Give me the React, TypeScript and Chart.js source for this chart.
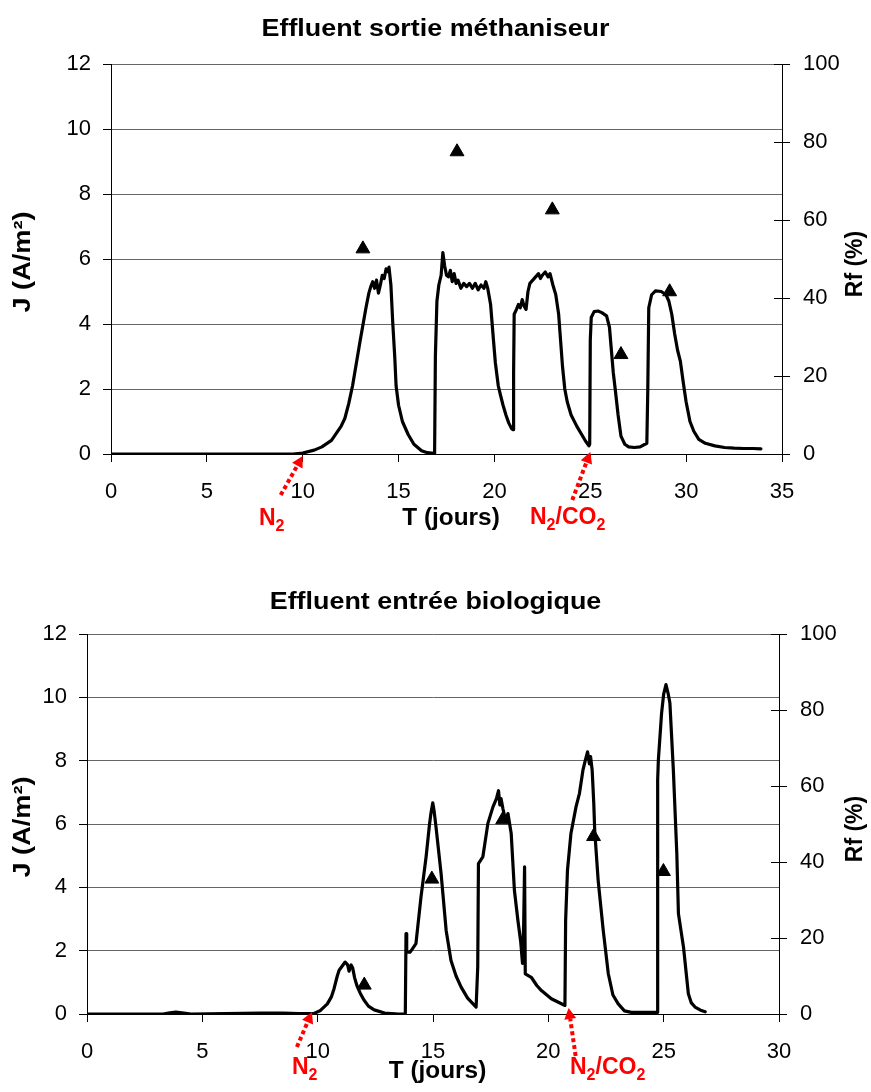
import React, { useEffect, useRef } from "react";
import { Chart, registerables } from "chart.js";
Chart.register(...registerables);

const FONT = "'Liberation Sans', Arial, Helvetica, sans-serif";

// ---------- Top chart : Effluent sortie méthaniseur ----------
const topTitle = "Effluent sortie méthaniseur";
const topXMax = 35;
const topT = [
  0, 9.5, 10, 10.6, 11.0, 11.5, 12.0, 12.2, 12.4, 12.6, 12.8, 13.0, 13.15, 13.3, 13.45, 13.55, 13.65, 13.75, 13.85, 13.95,
  14.05, 14.15, 14.25, 14.35, 14.45, 14.5, 14.6, 14.7, 14.8, 14.87, 15.0, 15.2, 15.5, 15.8, 16.2, 16.5, 16.85, 16.88, 16.92, 17.0,
  17.1, 17.22, 17.31, 17.4, 17.5, 17.6, 17.7, 17.8, 17.9, 18.0, 18.1, 18.25, 18.4, 18.55, 18.7, 18.85, 19.0, 19.15, 19.3, 19.45,
  19.55, 19.65, 19.8, 19.95, 20.05, 20.2, 20.3, 20.45, 20.6, 20.75, 20.9, 20.97, 21.0, 21.03, 21.15, 21.25, 21.35, 21.45, 21.55, 21.65,
  21.75, 21.85, 22.0, 22.15, 22.3, 22.4, 22.5, 22.65, 22.8, 22.9, 23.05, 23.2, 23.35, 23.45, 23.55, 23.67, 23.8, 24.0, 24.3, 24.55,
  24.75, 24.93, 24.97, 25.0, 25.05, 25.2, 25.4, 25.6, 25.85, 26.0, 26.1, 26.2, 26.3, 26.45, 26.6, 26.8, 27.0, 27.3, 27.6, 27.95,
  28.0, 28.05, 28.2, 28.4, 28.7, 28.95, 29.1, 29.25, 29.4, 29.55, 29.7, 29.85, 30.0, 30.2, 30.4, 30.66, 31.0, 31.5, 32.0, 32.5,
  33.0, 33.5, 33.9,
];
const topJ = [
  0, 0, 0.03, 0.12, 0.22, 0.42, 0.85, 1.1, 1.55, 2.1, 2.8, 3.5, 4.0, 4.5, 4.95, 5.15, 5.3, 5.1, 5.35, 4.95,
  5.2, 5.5, 5.4, 5.7, 5.6, 5.75, 5.2, 4.0, 3.0, 2.1, 1.5, 1.0, 0.6, 0.3, 0.1, 0.04, 0.02, 0.05, 3.0, 4.7,
  5.2, 5.5, 6.2, 5.8, 5.5, 5.45, 5.65, 5.3, 5.55, 5.25, 5.35, 5.1, 5.25, 5.15, 5.25, 5.1, 5.25, 5.05, 5.2, 5.1,
  5.3, 5.1, 4.6, 3.5, 2.8, 2.1, 1.85, 1.5, 1.2, 0.95, 0.78, 0.75, 2.5, 4.3, 4.45, 4.6, 4.5, 4.75, 4.55, 4.45,
  5.0, 5.25, 5.35, 5.45, 5.55, 5.4, 5.5, 5.6, 5.45, 5.55, 5.2, 4.9, 4.3, 3.5, 2.7, 2.0, 1.6, 1.2, 0.85, 0.6,
  0.4, 0.25, 0.3, 3.5, 4.2, 4.38, 4.4, 4.35, 4.25, 3.9, 3.2, 2.5, 2.0, 1.2, 0.55, 0.3, 0.22, 0.2, 0.22, 0.33,
  2.0, 4.5, 4.9, 5.02, 5.0, 4.9, 4.7, 4.3, 3.7, 3.2, 2.85, 2.2, 1.6, 1.0, 0.7, 0.45, 0.33, 0.25, 0.2, 0.18,
  0.17, 0.17, 0.16,
];
const topRfT = [13.14, 18.05, 23.02, 26.6, 29.14];
const topRf = [52.6, 77.5, 62.6, 25.5, 41.6];
const topGasT = [10, 25];

// ---------- Bottom chart : Effluent entrée biologique ----------
const botTitle = "Effluent entrée biologique";
const botXMax = 30;
const botT = [
  0, 1, 3.3, 3.6, 3.85, 4.2, 4.5, 6.0, 7.5, 8.5, 9.2, 9.84, 10.1, 10.42, 10.6, 10.71, 10.85, 10.93, 11.05, 11.19,
  11.3, 11.36, 11.45, 11.52, 11.6, 11.7, 11.85, 12.0, 12.2, 12.45, 12.9, 13.5, 13.8, 13.83, 13.86, 14.0, 14.1, 14.26, 14.48, 14.7,
  14.85, 14.91, 14.99, 15.05, 15.13, 15.35, 15.57, 15.78, 16.0, 16.22, 16.5, 16.87, 16.94, 16.97, 17.16, 17.38, 17.6, 17.75, 17.84, 17.9,
  17.95, 18.03, 18.15, 18.25, 18.39, 18.53, 18.68, 18.8, 18.88, 18.93, 18.97, 19.0, 19.26, 19.5, 19.7, 20.13, 20.72, 20.75, 20.83, 20.98,
  21.2, 21.35, 21.5, 21.6, 21.7, 21.78, 21.83, 21.9, 21.97, 22.01, 22.16, 22.38, 22.6, 22.8, 23.03, 23.3, 23.6, 24.0, 24.5, 24.72,
  24.74, 24.77, 24.91, 25.0, 25.1, 25.2, 25.27, 25.42, 25.57, 25.64, 25.86, 26.07, 26.2, 26.36, 26.6, 26.8,
];
const botJ = [
  0, 0, 0, 0.04, 0.06, 0.03, 0, 0.01, 0.03, 0.03, 0.01, 0.02, 0.1, 0.32, 0.55, 0.8, 1.2, 1.38, 1.5, 1.64,
  1.55, 1.35, 1.55, 1.45, 1.15, 0.9, 0.65, 0.45, 0.25, 0.13, 0.03, 0, 0, 2.54, 1.95, 1.95, 2.05, 2.22, 3.7, 4.96,
  6.0, 6.33, 6.67, 6.4, 5.91, 4.44, 2.64, 1.69, 1.2, 0.85, 0.5, 0.22, 1.5, 4.75, 4.96, 6.02, 6.54, 6.8, 7.05, 6.6,
  6.8, 6.49, 6.1, 6.33, 5.7, 3.9, 2.96, 2.3, 1.6, 2.8, 4.65, 1.27, 1.16, 0.9, 0.74, 0.48, 0.27, 2.96, 4.54, 5.7,
  6.54, 6.97, 7.7, 8.0, 8.28, 7.9, 8.13, 7.7, 6.65, 5.8, 4.22, 2.64, 1.27, 0.6, 0.32, 0.1, 0.05, 0.05, 0.05, 0.05,
  7.39, 8.02, 9.5, 10.1, 10.4, 10.1, 9.82, 7.7, 5.07, 3.17, 2.11, 0.64, 0.35, 0.22, 0.12, 0.07,
];
const botRfT = [12.02, 14.95, 18.02, 21.96, 24.99];
const botRf = [7.6, 35.5, 51.1, 46.7, 37.5];
const botGasT = [9.75, 20.88];

// ---------- Shared labels / ticks ----------
const xLabel = "T (jours)";
const yLabel = "J (A/m²)";
const y2Label = "Rf (%)";
const jMax = 12;
const jStep = 2;
const rfMax = 100;
const rfStep = 20;
const gasLabels: [string, boolean][][] = [
  [["N", false], ["2", true]],
  [["N", false], ["2", true], ["/CO", false], ["2", true]],
];

type Annot = { tailDx: number; tailDy: number; tipDy: number; textX: number; textDy: number };
type Spec = {
  title: string;
  T: number[];
  J: number[];
  rfT: number[];
  rf: number[];
  gasT: number[];
  xMax: number;
  W: number;
  H: number;
  leftW: number;
  rightW: number;
  topPad: number;
  bottomH: number;
  titleBase: number;
  xTitleBase: number;
  annots: Annot[];
};

function drawParts(ctx: CanvasRenderingContext2D, parts: [string, boolean][], x: number, y: number, size: number) {
  let cx = x;
  for (const [s, sub] of parts) {
    const fs = sub ? 16 : size;
    ctx.font = `bold ${fs}px ${FONT}`;
    ctx.fillText(s, cx, sub ? y + 6 : y);
    cx += ctx.measureText(s).width;
  }
}

function drawArrow(ctx: CanvasRenderingContext2D, x0: number, y0: number, x1: number, y1: number) {
  const ang = Math.atan2(y1 - y0, x1 - x0);
  const headLen = 11;
  const headW = 6;
  const bx = x1 - Math.cos(ang) * headLen;
  const by = y1 - Math.sin(ang) * headLen;
  ctx.save();
  ctx.strokeStyle = "#ff0000";
  ctx.fillStyle = "#ff0000";
  ctx.lineWidth = 4;
  ctx.setLineDash([4, 3]);
  ctx.beginPath();
  ctx.moveTo(x0, y0);
  ctx.lineTo(bx, by);
  ctx.stroke();
  ctx.setLineDash([]);
  ctx.beginPath();
  ctx.moveTo(x1, y1);
  ctx.lineTo(bx + Math.sin(ang) * headW, by - Math.cos(ang) * headW);
  ctx.lineTo(bx - Math.sin(ang) * headW, by + Math.cos(ang) * headW);
  ctx.closePath();
  ctx.fill();
  ctx.restore();
}

function stretchedText(
  ctx: CanvasRenderingContext2D,
  text: string,
  x: number,
  y: number,
  sx: number,
  rot: number
) {
  ctx.save();
  ctx.translate(x, y);
  ctx.rotate(rot);
  ctx.scale(sx, 1);
  ctx.fillText(text, 0, 0);
  ctx.restore();
}

function makeConfig(spec: Spec): any {
  const textPlugin = {
    id: "texts",
    afterDraw(chart: any) {
      const ctx: CanvasRenderingContext2D = chart.ctx;
      const ca = chart.chartArea;
      const midY = (ca.top + ca.bottom) / 2;
      const midX = (ca.left + ca.right) / 2;
      ctx.save();
      ctx.fillStyle = "#000";
      // right axis inner tick parts
      const y1 = chart.scales.y1;
      ctx.strokeStyle = "#000";
      ctx.lineWidth = 1;
      for (const t of y1.ticks) {
        const py = Math.round(y1.getPixelForValue(t.value)) + 0.5;
        ctx.beginPath();
        ctx.moveTo(ca.right - 8, py);
        ctx.lineTo(ca.right, py);
        ctx.stroke();
      }
      // title
      ctx.font = `bold 24px ${FONT}`;
      ctx.textAlign = "center";
      ctx.textBaseline = "alphabetic";
      stretchedText(ctx, spec.title, spec.W / 2, spec.titleBase, 1.12, 0);
      // x title
      ctx.font = `bold 23px ${FONT}`;
      stretchedText(ctx, xLabel, midX + 4.5, spec.xTitleBase, 1.06, 0);
      // y titles
      ctx.textBaseline = "middle";
      stretchedText(ctx, yLabel, 24, midY + 3, 1.18, -Math.PI / 2);
      stretchedText(ctx, y2Label, 856, midY + 5, 1.0, -Math.PI / 2);
      // gas annotations
      const xs = chart.scales.x;
      ctx.fillStyle = "#ff0000";
      ctx.textAlign = "left";
      ctx.textBaseline = "alphabetic";
      spec.gasT.forEach((t, i) => {
        const a = spec.annots[i];
        const tipX = xs.getPixelForValue(t);
        const tipY = ca.bottom + a.tipDy;
        drawArrow(ctx, tipX + a.tailDx, ca.bottom + a.tailDy, tipX, tipY);
        ctx.fillStyle = "#ff0000";
        drawParts(ctx, gasLabels[i], a.textX, ca.bottom + a.textDy, 23);
      });
      ctx.restore();
    },
  };

  const tickFont = { family: FONT, size: 22 };
  return {
    type: "line",
    data: {
      datasets: [
        {
          type: "scatter",
          data: spec.rfT.map((x, i) => ({ x, y: spec.rf[i] })),
          yAxisID: "y1",
          pointStyle: "triangle",
          pointRadius: 8,
          backgroundColor: "#000",
          borderColor: "#000",
          borderWidth: 1,
          showLine: false,
          order: 0,
        },
        {
          type: "line",
          data: spec.T.map((x, i) => ({ x, y: spec.J[i] })),
          yAxisID: "y",
          borderColor: "#000",
          borderWidth: 3.2,
          pointRadius: 0,
          tension: 0,
          borderJoinStyle: "round",
          borderCapStyle: "round",
          fill: false,
          order: 1,
        },
      ],
    },
    options: {
      responsive: false,
      maintainAspectRatio: false,
      animation: false,
      devicePixelRatio: 1,
      layout: { padding: { top: spec.topPad, left: 0, right: 0, bottom: 0 } },
      plugins: { legend: { display: false }, title: { display: false }, tooltip: { enabled: false } },
      scales: {
        x: {
          type: "linear",
          min: 0,
          max: spec.xMax,
          ticks: { stepSize: 5, color: "#000", font: tickFont, padding: 17, maxRotation: 0 },
          grid: { drawOnChartArea: false, drawTicks: true, tickLength: 8, tickColor: "#000" },
          border: { display: true, color: "#000", width: 1 },
          afterFit: (s: any) => {
            s.height = spec.bottomH;
          },
        },
        y: {
          type: "linear",
          position: "left",
          min: 0,
          max: jMax,
          ticks: { stepSize: jStep, color: "#000", font: tickFont, padding: 12 },
          grid: { color: "#666", drawTicks: true, tickLength: 8, tickColor: "#000" },
          border: { display: true, color: "#000", width: 1 },
          afterFit: (s: any) => {
            s.width = spec.leftW;
          },
        },
        y1: {
          type: "linear",
          position: "right",
          min: 0,
          max: rfMax,
          ticks: { stepSize: rfStep, color: "#000", font: tickFont, padding: 13 },
          grid: { drawOnChartArea: false, drawTicks: true, tickLength: 8, tickColor: "#000" },
          border: { display: true, color: "#000", width: 1 },
          afterFit: (s: any) => {
            s.width = spec.rightW;
          },
        },
      },
    },
    plugins: [textPlugin],
  };
}

const topSpec: Spec = {
  title: topTitle,
  T: topT,
  J: topJ,
  rfT: topRfT,
  rf: topRf,
  gasT: topGasT,
  xMax: topXMax,
  W: 871,
  H: 546,
  leftW: 111,
  rightW: 89,
  topPad: 64,
  bottomH: 92,
  titleBase: 36,
  xTitleBase: 525,
  annots: [
    { tailDx: -22, tailDy: 41, tipDy: 2, textX: 259, textDy: 71 },
    { tailDx: -18, tailDy: 46, tipDy: -2, textX: 530, textDy: 70 },
  ],
};

const botSpec: Spec = {
  title: botTitle,
  T: botT,
  J: botJ,
  rfT: botRfT,
  rf: botRf,
  gasT: botGasT,
  xMax: botXMax,
  W: 871,
  H: 546,
  leftW: 87,
  rightW: 92,
  topPad: 88,
  bottomH: 78,
  titleBase: 63,
  xTitleBase: 532,
  annots: [
    { tailDx: -15, tailDy: 33, tipDy: -2, textX: 292, textDy: 60 },
    { tailDx: 7, tailDy: 42, tipDy: -6, textX: 570, textDy: 60 },
  ],
};

function Panel({ spec, top }: { spec: Spec; top: number }) {
  const ref = useRef<HTMLCanvasElement>(null);
  useEffect(() => {
    const chart = new Chart(ref.current as HTMLCanvasElement, makeConfig(spec));
    return () => chart.destroy();
  }, [spec]);
  return (
    <canvas
      ref={ref}
      width={spec.W}
      height={spec.H}
      style={{ position: "absolute", left: 0, top, width: spec.W, height: spec.H }}
    />
  );
}

export default function App() {
  return (
    <div style={{ position: "absolute", left: 0, top: 0, width: 871, height: 1092, background: "#fff" }}>
      <Panel spec={topSpec} top={0} />
      <Panel spec={botSpec} top={546} />
    </div>
  );
}
